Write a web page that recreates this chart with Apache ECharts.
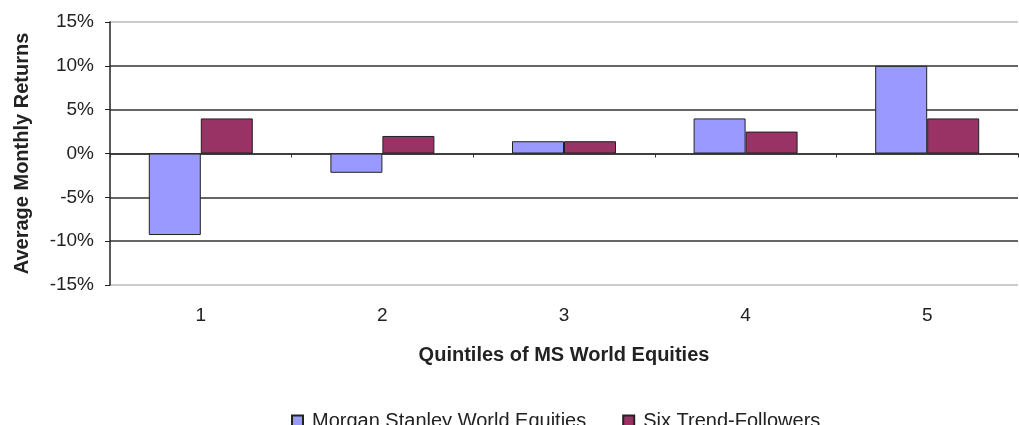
<!DOCTYPE html>
<html><head><meta charset="utf-8">
<script src="https://cdn.jsdelivr.net/npm/echarts@6/dist/echarts.min.js"></script>
<style>html,body{margin:0;padding:0;background:#fff}#c{width:1019px;height:425px}</style>
</head><body><div id="c"></div>
<script>
const categories = ['1','2','3','4','5'];
const msWorld = [-9.3, -2.2, 1.4, 4.0, 10.0];
const trendFollowers = [4.0, 2.0, 1.4, 2.5, 4.0];
const seriesNames = ['Morgan Stanley World Equities', 'Six Trend-Followers'];
const yTicks = [-15, -10, -5, 0, 5, 10, 15];

const font = 'Liberation Sans, Arial, sans-serif';
const chart = echarts.init(document.getElementById('c'));
chart.setOption({
  animation: false,
  textStyle: {fontFamily: font},
  grid: {left: 110, right: 1, top: 22, bottom: 140},
  legend: {
    top: 406, left: 286,
    itemWidth: 11, itemHeight: 11, itemGap: 36,
    textStyle: {fontFamily: font, fontSize: 20, color: '#222', padding: [0, 0, 0, 4]},
    data: seriesNames.map(n => ({name: n, icon: 'rect'}))
  },
  xAxis: [{
    type: 'category', data: categories,
    axisLine: {onZero: true, lineStyle: {color: '#333', width: 1.5}},
    axisTick: {show: true, length: 4, lineStyle: {color: '#333'}},
    axisLabel: {show: false}
  }, {
    type: 'category', data: categories, position: 'bottom',
    axisLine: {show: false}, axisTick: {show: false},
    axisLabel: {color: '#222', fontSize: 19, margin: 21, fontFamily: font},
    name: 'Quintiles of MS World Equities', nameLocation: 'middle', nameGap: 60,
    nameTextStyle: {fontWeight: 'bold', fontSize: 20, color: '#222', fontFamily: font}
  }],
  yAxis: {
    type: 'value', min: yTicks[0], max: yTicks[yTicks.length - 1], interval: 5,
    axisLine: {show: true, lineStyle: {color: '#222', width: 1.5}},
    axisTick: {show: true, length: 5, lineStyle: {color: '#222'}},
    axisLabel: {formatter: '{value}%', color: '#222', fontSize: 19, margin: 16, fontFamily: font},
    splitLine: {show: true, lineStyle: {color: ['#bbb','#333','#333','#333','#333','#333','#bbb'], width: 1.5}},
    name: 'Average Monthly Returns', nameLocation: 'middle', nameGap: 78,
    nameTextStyle: {fontWeight: 'bold', fontSize: 20, color: '#222', fontFamily: font}
  },
  series: [{
    name: seriesNames[0], type: 'bar', data: msWorld, barWidth: 52, barGap: '0%',
    itemStyle: {color: '#9999FF', borderColor: '#222', borderWidth: 1}
  }, {
    name: seriesNames[1], type: 'bar', data: trendFollowers, barWidth: 52, barGap: '0%',
    itemStyle: {color: '#993366', borderColor: '#222', borderWidth: 1}
  }]
});
</script></body></html>
